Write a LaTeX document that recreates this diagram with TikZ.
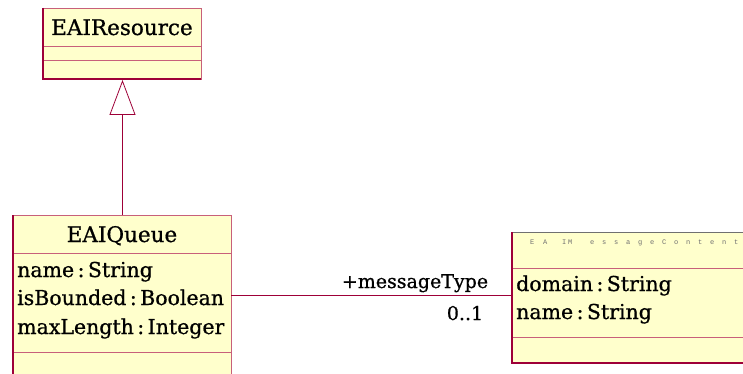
\documentclass[tikz,border=0pt]{standalone}
\usepackage{fontspec}
\setmainfont{DejaVu Serif}[FakeBold=0.8]
\newfontfamily\tinymono{Liberation Mono}
\usetikzlibrary{arrows.meta}
\definecolor{umlfill}{HTML}{FFFFCC}
\definecolor{umledge}{HTML}{9E0038}
\definecolor{umlsep}{HTML}{C8607A}
\definecolor{umlgray}{HTML}{707070}
\newcommand\lsp{\kern7.8pt}
\tikzset{
  classbox/.style={draw=umlsep, fill=umlfill, line width=1pt, rectangle, inner sep=0pt, anchor=north west},
  classname/.style={font=\fontsize{21.5}{24}\selectfont, inner sep=0pt, anchor=base},
  attr/.style={font=\fontsize{20.5}{24}\selectfont, inner sep=0pt, anchor=base west},
  assoc/.style={draw=umledge, line width=0.8pt},
  generalization/.style={draw=umledge, line width=0.8pt, -{Triangle[open, length=35pt, width=26pt, fill=white]}},
  rolelabel/.style={font=\fontsize{19}{22}\selectfont, inner sep=0pt, anchor=base},
}
\begin{document}
\begin{tikzpicture}[x=1pt, y=-1pt]
\clip (0,0) rectangle (743,374);
\fill[white] (0,0) rectangle (743,374);

% EAIResource
\node[classbox, minimum width=158pt, minimum height=71pt] (res) at (43,8) {};
\draw[umlsep, line width=1pt] (43,47) -- (201,47) (43,61) -- (201,61);
\draw[umledge, line width=1.6pt] (43,8) -- (43,79) -- (201,79);
\node[classname] (resname) at (122,35) {EAIResource};

% EAIQueue
\node[classbox, minimum width=218pt, minimum height=170pt] (queue) at (13,215) {};
\draw[umlsep, line width=1pt] (13,253) -- (231,253) (13,352) -- (231,352);
\draw[umledge, line width=1.6pt] (13,215) -- (13,385);
\node[classname] (queuename) at (122,242) {EAIQueue};
\node[attr] (qa1) at (17,277) {name\,:\,String};
\node[attr] (qa2) at (17,305) {isBounded\,:\,Boolean};
\node[attr] (qa3) at (17,334) {maxLength\,:\,Integer};

% EAIMessageContent
\node[classbox, minimum width=250pt, minimum height=131pt] (content) at (512,232) {};
\draw[umlgray, line width=1pt] (512,232) -- (762,232);
\draw[umlsep, line width=1pt] (512,268) -- (762,268) (512,337) -- (762,337);
\draw[umledge, line width=1.6pt] (512,232) -- (512,363) -- (762,363);
\node[font=\tinymono\fontsize{7}{8}\selectfont, text=umlgray, inner sep=0pt, anchor=base west] (contentname) at (530,244)
  {E\kern8.8pt A\kern14.8pt I\kern1.8pt M\kern17.8pt e\lsp s\lsp s\lsp a\lsp g\lsp e\lsp C\lsp o\lsp n\lsp t\lsp e\lsp n\lsp t};
\node[attr] (ca1) at (516,291) {domain\,:\,String};
\node[attr] (ca2) at (516,319) {name\,:\,String};

% generalization EAIQueue -> EAIResource
\draw[generalization] (queue.north) -- (res.south);

% association EAIQueue -- EAIMessageContent
\coordinate (qend) at (231,295);
\coordinate (cend) at (512,295);
\draw[assoc] (qend) -- (cend);
\node[rolelabel] (role) at (415,288) {+messageType};
\node[rolelabel] (mult) at (465,320) {0..1};
\end{tikzpicture}
\end{document}
